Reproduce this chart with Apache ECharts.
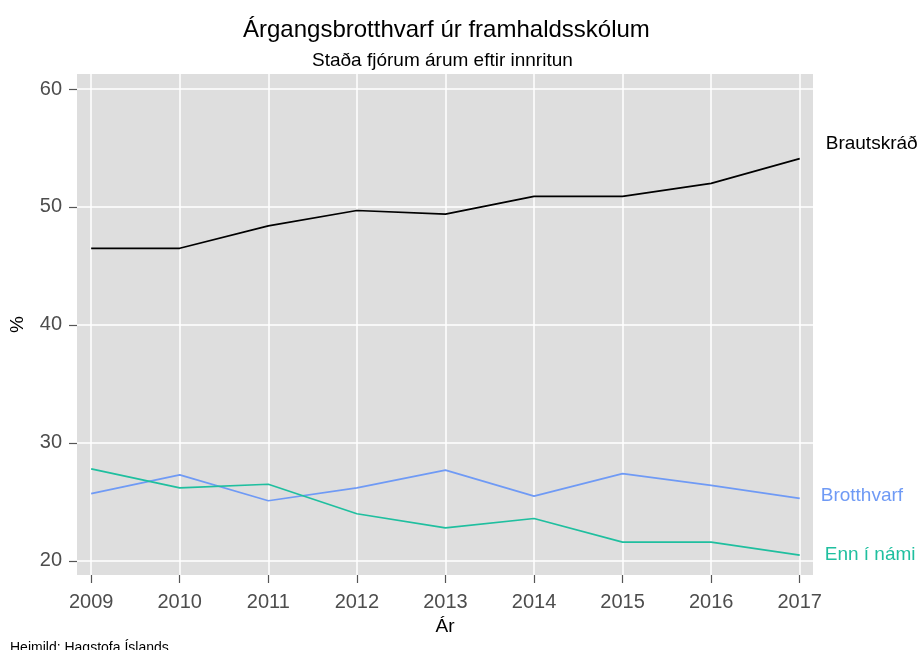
<!DOCTYPE html>
<html>
<head>
<meta charset="utf-8">
<script src="https://cdn.jsdelivr.net/npm/echarts@6/dist/echarts.min.js"></script>
<style>
  html, body { margin: 0; padding: 0; background: #fff; }
  #chart { width: 918px; height: 650px; }
</style>
</head>
<body>
<div id="chart"></div>
<script>
// gögn lesin af myndinni
var years = [2009, 2010, 2011, 2012, 2013, 2014, 2015, 2016, 2017];
var brautskrad = [46.5, 46.5, 48.4, 49.7, 49.4, 50.9, 50.9, 52.0, 54.1];
var brotthvarf = [25.7, 27.3, 25.1, 26.2, 27.7, 25.5, 27.4, 26.4, 25.3];
var ennINami = [27.8, 26.2, 26.5, 24.0, 22.8, 23.6, 21.6, 21.6, 20.5];
var yTicks = [20, 30, 40, 50, 60];

var font = 'Liberation Sans, Arial, sans-serif';

function pairs(vals) {
    return years.map(function (y, i) { return [y, vals[i]]; });
}

function lineSeries(name, vals, color, offset) {
    return {
        name: name,
        type: 'line',
        data: pairs(vals),
        symbol: 'none',
        lineStyle: { color: color, width: 1.7 },
        itemStyle: { color: color },
        endLabel: {
            show: true,
            formatter: name,
            color: color,
            fontSize: 19,
            fontFamily: font,
            offset: offset
        }
    };
}

var myChart = echarts.init(document.getElementById('chart'));
var option = {
    animation: false,
    textStyle: { fontFamily: font },
    grid: {
        left: 77, right: 105, top: 74, bottom: 75,
        outerBoundsMode: 'none',
        show: true, backgroundColor: '#dedede', borderWidth: 0
    },
    graphic: [
        { type: 'text', left: 445 - 202, top: 18, style: { text: 'Árgangsbrotthvarf úr framhaldsskólum', fontSize: 24, fontFamily: font, fill: '#000' } },
        { type: 'text', left: 445 - 133, top: 51, style: { text: 'Staða fjórum árum eftir innritun', fontSize: 19, fontFamily: font, fill: '#000' } },
        { type: 'text', left: 10, top: 641, style: { text: 'Heimild: Hagstofa Íslands', fontSize: 14, fontFamily: font, fill: '#000' } }
    ],
    xAxis: {
        type: 'value',
        min: 2008.84,
        max: 2017.15,
        name: 'Ár',
        nameLocation: 'middle',
        nameGap: 40,
        nameTextStyle: { fontSize: 19, color: '#000', fontFamily: font },
        axisLine: { show: false },
        axisTick: { show: true, length: 8, customValues: years, lineStyle: { color: '#555', width: 1.2 } },
        axisLabel: { customValues: years, fontSize: 20, color: '#4d4d4d', margin: 17, formatter: function (v) { return String(v); } },
        splitLine: { show: true, lineStyle: { color: '#fff', width: 1.5 } }
    },
    yAxis: {
        type: 'value',
        min: 18.81,
        max: 61.27,
        name: '%',
        nameLocation: 'middle',
        nameGap: 50,
        nameRotate: 90,
        nameTextStyle: { fontSize: 19, color: '#000', fontFamily: font },
        axisLine: { show: false },
        axisTick: { show: true, length: 8, customValues: yTicks, lineStyle: { color: '#555', width: 1.2 } },
        axisLabel: { customValues: yTicks, fontSize: 20, color: '#4d4d4d', margin: 15 },
        splitLine: { show: true, lineStyle: { color: '#fff', width: 1.5 } }
    },
    series: [
        lineSeries('Brautskráð', brautskrad, '#000000', [18, -15]),
        lineSeries('Brotthvarf', brotthvarf, '#6f9af5', [13, -3]),
        lineSeries('Enn í námi', ennINami, '#1fbf9f', [17, 0])
    ]
};
myChart.setOption(option);
</script>
</body>
</html>
